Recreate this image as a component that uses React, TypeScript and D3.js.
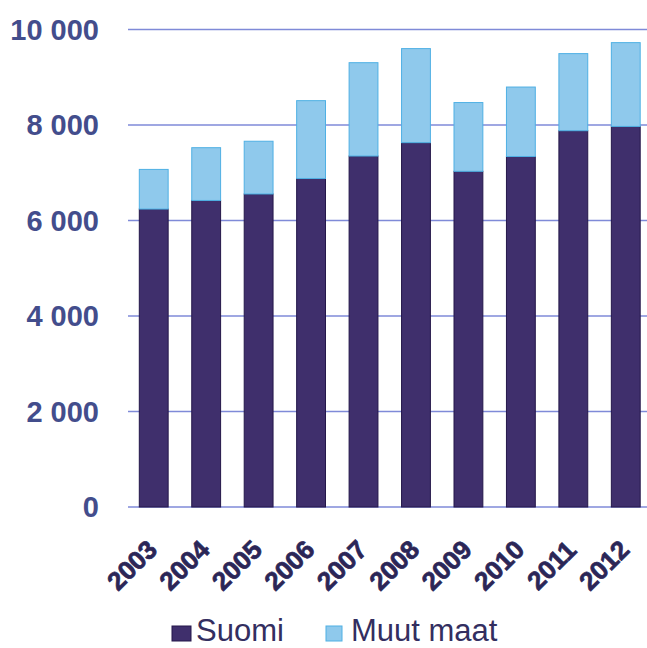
import React from "react";
import * as d3 from "d3";

const years = ["2003", "2004", "2005", "2006", "2007", "2008", "2009", "2010", "2011", "2012"];
const suomi = [6240, 6420, 6555, 6880, 7350, 7630, 7030, 7340, 7880, 7970];
const muutMaat = [830, 1105, 1105, 1630, 1955, 1970, 1440, 1455, 1615, 1755];
const yTicks = [0, 2000, 4000, 6000, 8000, 10000];
const seriesNames = ["Suomi", "Muut maat"];

const W = 647;
const H = 648;
const FONT = "Liberation Sans, Arial, sans-serif";

export default function App() {
  const x = d3.scaleBand<string>().domain(years).range([127.5, 652]).paddingInner(0.45).paddingOuter(0.225);
  const y = d3.scaleLinear().domain([0, 10000]).range([507, 29.5]);
  const fmt = (v: number) => d3.format(",")(v).replace(/,/g, " ");
  const rows = years.map((yr, i) => ({ year: yr, Suomi: suomi[i], "Muut maat": muutMaat[i] }));
  const stack = d3.stack<any>().keys(seriesNames)(rows);
  const fills = ["#3f2f6c", "#8fc9ec"];
  const strokes = ["#24174a", "#4fb0e4"];
  return (
    <svg width={W} height={H} style={{ position: "absolute", left: 0, top: 0, background: "#fff" }}>
      {yTicks.map((t) => (
        <g key={t}>
          <line x1={128} x2={W} y1={y(t)} y2={y(t)} stroke="#7f8ad8" strokeWidth={1.5} />
          <text
            x={99}
            y={y(t)}
            dy="0.36em"
            textAnchor="end"
            fontFamily={FONT}
            fontWeight="bold"
            fontSize={29}
            fill="#434d8c"
          >
            {fmt(t)}
          </text>
        </g>
      ))}
      {stack.map((s, si) => (
        <g key={si}>
          {s.map((d, i) => (
            <rect
              key={i}
              x={x(years[i])!}
              width={x.bandwidth()}
              y={y(d[1])}
              height={y(d[0]) - y(d[1])}
              fill={fills[si]}
              stroke={strokes[si]}
              strokeWidth={1}
            />
          ))}
        </g>
      ))}
      {years.map((yr) => (
        <text
          key={yr}
          transform={`translate(${x(yr)! + x.bandwidth() / 2 - 22},565) rotate(-45)`}
          textAnchor="middle"
          dy="0.36em"
          fontFamily={FONT}
          fontWeight="bold"
          fontSize={26}
          fill="#2b2657"
          stroke="#2b2657"
          strokeWidth={0.7}
        >
          {yr}
        </text>
      ))}
      <g>
        <rect x={172} y={626} width={19} height={15} fill={fills[0]} stroke={strokes[0]} />
        <text x={196} y={641} fontFamily={FONT} fontSize={31} fill="#332e60">
          {seriesNames[0]}
        </text>
        <rect x={326} y={626} width={16} height={15} fill={fills[1]} stroke={strokes[1]} />
        <text x={351} y={641} fontFamily={FONT} fontSize={31} fill="#332e60">
          {seriesNames[1]}
        </text>
      </g>
    </svg>
  );
}
